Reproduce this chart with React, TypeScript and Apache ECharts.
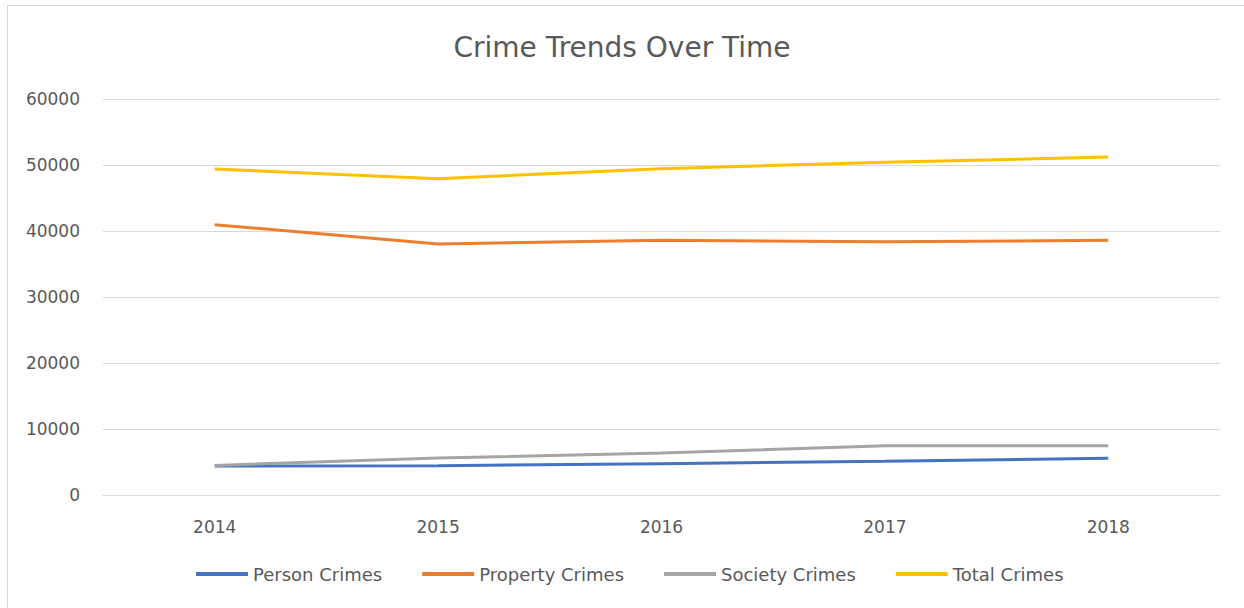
import React, { useEffect, useRef } from "react";
import * as echarts from "echarts";

const years = ["2014", "2015", "2016", "2017", "2018"];
const personCrimes = [4400, 4450, 4750, 5100, 5560];
const propertyCrimes = [40960, 38030, 38590, 38360, 38590];
const societyCrimes = [4480, 5610, 6360, 7470, 7470];
const totalCrimes = [49390, 47930, 49440, 50400, 51210];

const FONT = "'DejaVu Sans', sans-serif";

export default function App() {
  const ref = useRef<HTMLDivElement>(null);
  useEffect(() => {
    if (!ref.current) return;
    const chart = echarts.init(ref.current, undefined, { renderer: "svg" });
    const mk = (name: string, data: number[], color: string) => ({
      name,
      type: "line",
      data,
      symbol: "none",
      showSymbol: false,
      lineStyle: { width: 3, color },
      itemStyle: { color },
      emphasis: { disabled: true },
    });
    chart.setOption({
      animation: false,
      backgroundColor: "#ffffff",
      textStyle: { fontFamily: FONT },
      title: {
        text: "Crime Trends Over Time",
        left: "center",
        top: 28,
        textStyle: { fontSize: 28, fontWeight: "normal", color: "#595959", fontFamily: FONT },
      },
      graphic: [
        {
          type: "rect",
          shape: { x: 7.5, y: 5.5, width: 1250, height: 620 },
          style: { fill: "none", stroke: "#d9d9d9", lineWidth: 1 },
          silent: true,
        },
      ],
      grid: { left: 103, right: 24, top: 99, bottom: 113 },
      legend: {
        bottom: 20,
        left: 191,
        itemWidth: 52,
        itemHeight: 4,
        itemGap: 40,
        icon: "rect",
        textStyle: { fontSize: 18, color: "#595959", fontFamily: FONT },
        data: ["Person Crimes", "Property Crimes", "Society Crimes", "Total Crimes"],
      },
      xAxis: {
        type: "category",
        data: years,
        boundaryGap: true,
        axisLine: { show: true, lineStyle: { color: "#d9d9d9", width: 1 } },
        axisTick: { show: false },
        axisLabel: { color: "#595959", fontSize: 17, margin: 23, fontFamily: FONT },
      },
      yAxis: {
        type: "value",
        min: 0,
        max: 60000,
        interval: 10000,
        axisLine: { show: false },
        axisTick: { show: false },
        splitLine: { lineStyle: { color: "#d9d9d9", width: 1 } },
        axisLabel: {
          color: "#595959",
          fontSize: 17,
          margin: 23,
          fontFamily: FONT,
          formatter: (v: number) => String(v),
        },
      },
      series: [
        mk("Person Crimes", personCrimes, "#4472C4"),
        mk("Property Crimes", propertyCrimes, "#ED7D31"),
        mk("Society Crimes", societyCrimes, "#A5A5A5"),
        mk("Total Crimes", totalCrimes, "#FFC000"),
      ],
    });
    return () => chart.dispose();
  }, []);
  return (
    <div
      ref={ref}
      style={{ position: "fixed", left: 0, top: 0, width: 1244, height: 608 }}
    />
  );
}
